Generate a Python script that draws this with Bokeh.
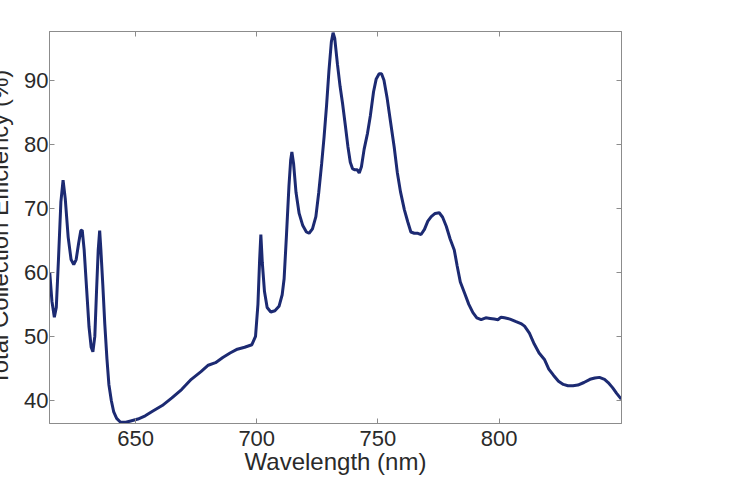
from bokeh.plotting import figure
from bokeh.models import LinearAxis, Range1d, FixedTicker
from bokeh.embed import file_html
from bokeh.resources import INLINE

wavelength_nm = [
    614.6, 615.5, 616.5, 617.3, 618.2, 619.2, 620.1, 621.0, 622.2, 623.4,
    624.5, 625.5, 626.5, 627.4, 628.0, 628.8, 629.8, 630.8, 631.7, 632.4,
    633.2, 633.9, 634.6, 635.2, 635.7, 636.5, 637.3, 638.2, 639.0, 640.0,
    641.0, 642.2, 643.8, 646.0, 648.0, 651.0, 654.0, 657.0, 661.0, 665.0,
    669.0, 673.0, 677.0, 680.0, 683.0, 686.0, 689.0, 692.0, 695.0, 698.0,
    699.5, 700.5, 701.2, 701.7, 702.3, 703.2, 704.3, 705.8, 707.5, 709.2,
    710.5, 711.3, 712.3, 713.3, 714.0, 714.5, 715.2, 716.2, 717.5, 719.0,
    720.5, 721.6, 723.0, 724.4, 725.6, 726.8, 727.8, 728.8, 729.8, 730.8,
    731.5, 732.2, 733.3, 734.4, 735.4, 736.6, 737.6, 738.6, 739.5, 740.5,
    741.5, 742.3, 743.2, 744.3, 745.7, 746.9, 748.2, 749.3, 750.5, 751.5,
    752.5, 753.8, 755.2, 756.7, 758.0, 759.3, 760.9, 762.3, 763.6, 765.0,
    766.5, 767.8, 769.2, 770.6, 772.0, 773.6, 775.3, 776.7, 778.2, 779.8,
    781.5, 782.7, 784.0, 785.7, 787.5, 789.2, 790.8, 792.6, 794.5, 796.3,
    798.0, 799.5, 800.8, 802.2, 804.5, 807.0, 809.0, 810.5, 812.5, 814.5,
    816.5, 818.7, 820.5, 822.5, 824.5, 826.5, 828.4, 830.5, 832.5, 835.0,
    837.5, 839.5, 841.4, 843.5, 845.0, 846.8, 848.5, 850.4,
]
efficiency_pct = [
    60.0, 55.5, 53.0, 54.5, 62.0, 71.0, 74.4, 71.5, 65.5, 62.0,
    61.2, 62.0, 64.5, 66.5, 66.6, 63.5, 57.5, 51.5, 48.3, 47.6,
    50.0, 57.0, 63.5, 66.5, 63.5, 58.0, 52.0, 46.5, 42.5, 40.0,
    38.2, 37.2, 36.6, 36.6, 36.8, 37.1, 37.6, 38.3, 39.2, 40.4,
    41.7, 43.3, 44.5, 45.5, 45.9, 46.7, 47.4, 48.0, 48.3, 48.7,
    50.0, 55.0, 62.0, 65.9, 61.5, 57.0, 54.5, 53.8, 54.0, 54.7,
    56.5, 59.0, 66.0, 73.5, 77.5, 78.8, 77.0, 72.5, 69.2, 67.3,
    66.3, 66.1, 66.8, 68.7, 72.5, 77.0, 81.2, 86.0, 91.5, 96.0,
    97.4, 96.5, 92.5, 89.0, 86.4, 82.8, 79.7, 77.2, 76.2, 76.0,
    76.0, 75.5, 76.5, 79.2, 81.7, 84.5, 88.2, 90.2, 91.0, 91.0,
    90.0, 87.2, 83.5, 79.6, 75.6, 72.6, 69.8, 67.9, 66.3, 66.1,
    66.1, 65.9, 66.7, 68.0, 68.7, 69.2, 69.3, 68.6, 67.2, 65.2,
    63.5, 61.0, 58.5, 56.8, 55.0, 53.7, 52.9, 52.6, 52.9, 52.8,
    52.7, 52.6, 53.0, 52.9, 52.7, 52.3, 52.0, 51.6, 50.5, 48.8,
    47.4, 46.4, 44.9, 43.9, 43.0, 42.5, 42.3, 42.3, 42.4, 42.8,
    43.3, 43.5, 43.6, 43.3, 42.8, 42.0, 41.1, 40.2,
]
x_ticks = [650, 700, 750, 800]
y_ticks = [40, 50, 60, 70, 80, 90]
x_label = "Wavelength (nm)"
y_label = "Total Collection Efficiency (%)"

X_MIN, X_MAX = 614.5, 850.5
Y_MIN, Y_MAX = 36.4, 97.6

FONT = "Liberation Sans"
AXIS_COLOR = "#8c8c8c"
TEXT_COLOR = "#2a2a2a"
SHIFT = 17  # left part of the y label falls outside the page, as in the source

p = figure(width=729 + SHIFT, height=477, output_backend="svg", toolbar_location=None,
           x_range=Range1d(X_MIN, X_MAX), y_range=Range1d(Y_MIN, Y_MAX),
           min_border_left=0, min_border_right=108, min_border_top=31,
           min_border_bottom=53)
p.styles = {"margin-left": f"-{SHIFT}px"}
p.grid.visible = False
p.outline_line_color = AXIS_COLOR
p.background_fill_color = "white"
p.border_fill_color = "white"

p.line(wavelength_nm, efficiency_pct, line_color="#1c2a72", line_width=3)

def style_axis(ax, ticks, show_labels=True, standoff=5):
    ax.ticker = FixedTicker(ticks=ticks)
    ax.axis_line_color = AXIS_COLOR
    ax.major_tick_line_color = AXIS_COLOR
    ax.major_tick_in = 5
    ax.major_tick_out = 0
    ax.minor_tick_line_color = None
    ax.major_label_text_font = FONT
    if show_labels:
        ax.major_label_text_color = TEXT_COLOR
        ax.major_label_text_font_size = "22px"
        ax.major_label_standoff = standoff
    else:
        ax.major_label_text_color = None
        ax.major_label_text_font_size = "8px"
        ax.major_label_standoff = 0

def style_label(ax, text, standoff):
    ax.axis_label = text
    ax.axis_label_text_font = FONT
    ax.axis_label_text_font_size = "24px"
    ax.axis_label_text_font_style = "normal"
    ax.axis_label_text_color = TEXT_COLOR
    ax.axis_label_standoff = standoff

style_axis(p.xaxis[0], x_ticks, standoff=7)
style_label(p.xaxis[0], x_label, -1)
style_axis(p.yaxis[0], y_ticks, standoff=1)
style_label(p.yaxis[0], y_label, 8)

top = LinearAxis()
style_axis(top, x_ticks, show_labels=False)
p.add_layout(top, "above")
right = LinearAxis()
style_axis(right, y_ticks, show_labels=False)
p.add_layout(right, "right")

open("out.html", "w").write(file_html(p, INLINE))
